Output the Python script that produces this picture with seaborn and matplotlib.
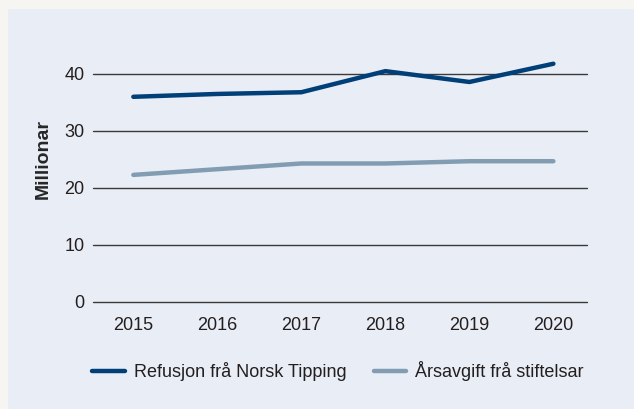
import pandas as pd
import matplotlib
matplotlib.use("Agg")
import matplotlib.pyplot as plt
from matplotlib.patches import Rectangle
import seaborn as sns

# %% DATA
years = [2015, 2016, 2017, 2018, 2019, 2020]
refusjon = [36.0, 36.5, 36.8, 40.5, 38.6, 41.8]
aarsavgift = [22.3, 23.3, 24.3, 24.3, 24.7, 24.7]
series_names = ["Refusjon frå Norsk Tipping", "Årsavgift frå stiftelsar"]
colors = ["#003f77", "#829db2"]
yticks = [0, 10, 20, 30, 40]

df = pd.DataFrame({
    "år": years * 2,
    "verdi": refusjon + aarsavgift,
    "serie": [series_names[0]] * len(years) + [series_names[1]] * len(years),
})

# %% STYLE
sns.set_style("white")
plt.rcParams["font.family"] = ["Liberation Sans", "DejaVu Sans"]
plt.rcParams["text.color"] = "#231f20"
plt.rcParams["xtick.color"] = "#231f20"
plt.rcParams["ytick.color"] = "#231f20"

fig = plt.figure(figsize=(6.34, 4.09), dpi=100, facecolor="#f6f5f1")
fig.patches.append(Rectangle((8 / 634, 0), 1, 1 - 9 / 409, transform=fig.transFigure,
                             facecolor="#e9edf5", edgecolor="none", zorder=-10))

ax = fig.add_axes([93 / 634, 1 - 302 / 409, (587 - 93) / 634, (302 - 17) / 409])
ax.set_facecolor("none")
ax.set_zorder(5)

sns.lineplot(data=df, x="år", y="verdi", hue="serie", palette=colors,
             linewidth=3.2, ax=ax, legend=False,
             solid_capstyle="round", solid_joinstyle="round")

ax.set_xlim(2014.52, 2020.40)
ax.set_ylim(0, 50)
ax.set_yticks(yticks)
ax.set_xticks(years)
ax.set_xticklabels([str(y) for y in years])
ax.grid(axis="y", color="#3a3a3a", linewidth=1.0)
for gl in ax.get_ygridlines():
    gl.set_clip_on(False)
ax.set_axisbelow(True)
for s in ax.spines.values():
    s.set_visible(False)
ax.tick_params(axis="both", length=0, labelsize=13)
ax.tick_params(axis="x", pad=11)
ax.tick_params(axis="y", pad=6)
ax.set_xlabel("")
ax.set_ylabel("Millionar", fontsize=14, fontweight="bold", labelpad=9)

handles = [plt.Line2D([], [], color=c, linewidth=3.2, solid_capstyle="round") for c in colors]
fig.legend(handles, series_names, loc="center", bbox_to_anchor=(338 / 634, 1 - 371 / 409),
           ncol=2, frameon=False, fontsize=13, handlelength=1.8, columnspacing=1.5,
           handletextpad=0.5)

fig.savefig("out.png", dpi=100, facecolor=fig.get_facecolor())
